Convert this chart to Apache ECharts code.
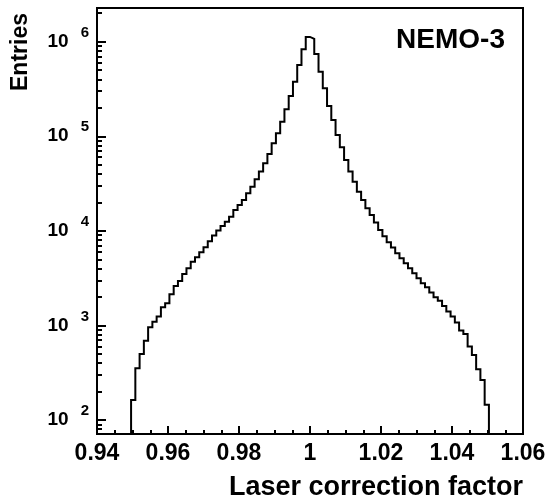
<!DOCTYPE html>
<html>
<head>
<meta charset="utf-8">
<script src="https://cdn.jsdelivr.net/npm/echarts@6/dist/echarts.min.js"></script>
<style>
html,body{margin:0;padding:0;background:#fff;}
#chart{width:555px;height:502px;}
</style>
</head>
<body>
<div id="chart"></div>
<script>
// Histogram definition: 100 bins over 0.94-1.06, non-empty bins start at 0.9496
const binStart = 0.9496;
const binWidth = 0.0012;
// Entries per bin (log scale)
const counts = [
  163, 352, 500, 690, 957, 1096, 1239, 1556, 1714, 2138,
  2618, 2951, 3499, 4018, 4721, 5260, 5943, 6714, 7762, 8913,
  10070, 11270, 12500, 14130, 16630, 18790, 21230, 24950, 29310, 35080,
  42270, 51880, 65010, 84330, 107600, 142600, 192800, 266700, 377600, 567500,
  831800, 1122000, 1072000, 741300, 482000, 321400, 208900, 148600, 103300, 76560,
  56100, 42270, 33110, 25940, 21230, 17340, 14720, 12220, 10210, 8750,
  7586, 6683, 5794, 5129, 4550, 4027, 3565, 3155, 2793, 2535,
  2223, 1986, 1828, 1607, 1400, 1239, 1072, 881, 813, 597,
  488, 344, 265, 145
];
const xTicks = [0.94, 0.96, 0.98, 1, 1.02, 1.04, 1.06];
const yMajor = [100, 1000, 10000, 100000, 1000000];
const yMinor = [80, 90,
  200, 300, 400, 500, 600, 700, 800, 900,
  2000, 3000, 4000, 5000, 6000, 7000, 8000, 9000,
  20000, 30000, 40000, 50000, 60000, 70000, 80000, 90000,
  200000, 300000, 400000, 500000, 600000, 700000, 800000, 900000,
  2000000];
const xTitle = 'Laser correction factor';
const yTitle = 'Entries';
const label = 'NEMO-3';

const yMin = 71.1, yMax = 2.27e6;
const floorVal = 1;

const edge = i => +(binStart + i * binWidth).toFixed(5);
const data = [[edge(0), floorVal]];
counts.forEach((c, i) => data.push([edge(i), c]));
data.push([edge(counts.length), counts[counts.length - 1]]);
data.push([edge(counts.length), floorVal]);

const FONT = '"Liberation Sans", Arial, Helvetica, sans-serif';
const chart = echarts.init(document.getElementById('chart'), null, {renderer: 'canvas'});
chart.setOption({
  animation: false,
  backgroundColor: '#fff',
  grid: {left: 97, right: 32, top: 8, bottom: 68, containLabel: false, outerBoundsMode: 'none',
         show: true, borderColor: '#000', borderWidth: 2, backgroundColor: 'transparent'},
  xAxis: {
    type: 'value', min: 0.94, max: 1.06, interval: 0.02,
    axisLine: {show: true, onZero: false, lineStyle: {color: '#000', width: 2}},
    axisTick: {show: true, inside: true, length: 8, lineStyle: {color: '#000', width: 2}},
    minorTick: {show: true, splitNumber: 4, length: 4, lineStyle: {color: '#000', width: 2}},
    splitLine: {show: false},
    axisLabel: {
      show: true, margin: 8, color: '#000', fontFamily: FONT, fontWeight: 'bold', fontSize: 23,
      showMinLabel: true, showMaxLabel: true,
      customValues: xTicks,
      formatter: v => String(+v.toFixed(2))
    },
    name: xTitle, nameLocation: 'end', nameGap: 0,
    nameTextStyle: {color: '#000', fontFamily: FONT, fontWeight: 'bold', fontSize: 27,
      align: 'right', verticalAlign: 'top', padding: [40, 0, 0, 0]}
  },
  yAxis: [{
    type: 'log', min: yMin, max: yMax, logBase: 10,
    axisLine: {show: true, onZero: false, lineStyle: {color: '#000', width: 2}},
    axisTick: {show: true, inside: true, length: 9, customValues: yMajor, lineStyle: {color: '#000', width: 2}},
    splitLine: {show: false},
    axisLabel: {
      show: true, margin: 8, customValues: yMajor,
      formatter: v => '{b|10}{s|' + Math.round(Math.log10(v)) + '}',
      rich: {
        b: {color: '#000', fontFamily: FONT, fontWeight: 'bold', fontSize: 19},
        s: {color: '#000', fontFamily: FONT, fontWeight: 'bold', fontSize: 15, padding: [0, 0, 18, 12]}
      }
    }
  }, {
    type: 'log', min: yMin, max: yMax, logBase: 10, position: 'left', offset: 0,
    axisLine: {show: false},
    axisTick: {show: true, inside: true, length: 5, customValues: yMinor, lineStyle: {color: '#000', width: 2}},
    axisLabel: {show: false},
    splitLine: {show: false}
  }],
  graphic: [
    {type: 'text', x: 21, y: 52, rotation: Math.PI / 2,
     style: {text: yTitle, fill: '#000', font: 'bold 23px ' + FONT, align: 'center', verticalAlign: 'middle'}},
    {type: 'text', x: 505, y: 40,
     style: {text: label, fill: '#000', font: 'bold 28px ' + FONT, align: 'right', verticalAlign: 'middle'}}
  ],
  series: [{
    type: 'line', xAxisIndex: 0, yAxisIndex: 0,
    data: data, step: 'end', showSymbol: false, symbol: 'none', clip: true,
    lineStyle: {color: '#000', width: 2, join: 'miter'}
  }]
});
</script>
</body>
</html>
